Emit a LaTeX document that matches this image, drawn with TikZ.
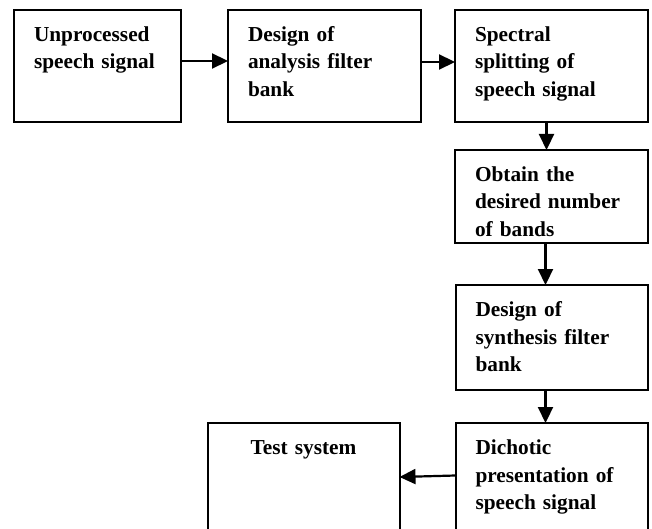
\documentclass[tikz,border=0pt]{standalone}
\usepackage{fontspec}
\setmainfont{Liberation Serif}
\usepackage{tikz}
\usetikzlibrary{arrows.meta,positioning}

\begin{document}
\begin{tikzpicture}[>={Triangle[length=16pt,width=15pt]}, node distance=1cm,
		block/.style={draw, line width=2pt, align=left, outer sep=0pt,
			inner xsep=20pt, inner ysep=0pt, text height=31.5pt,
			font=\fontsize{21.3}{27.5}\selectfont\bfseries},
		flow/.style={->, line width=2.2pt}]
			\useasboundingbox (0,0) rectangle (652pt,-529pt);
			\node[block, anchor=north west, text width=127pt, text depth=80.5pt] (raw) at (14pt,-10pt) {Unprocessed\\speech signal};
			\node[block, text width=153pt, text depth=80.5pt] [right=47pt of raw] (anfb) {Design of\\analysis filter\\bank};
			\node[block, text width=153pt, text depth=80.5pt] [right=34pt of anfb] (split) {Spectral\\splitting of\\speech signal};
			\node[block, text width=153pt, text depth=61.5pt] [below=28pt of split] (bands) {Obtain the\\desired number\\of bands};
			\node[block, text width=152pt, text depth=73.5pt] [below=42pt of bands] (synfb) {Design of\\synthesis filter\\bank};
			\node[block, text width=152pt, text depth=98.5pt] [below=33pt of synfb] (dicho) {Dichotic\\presentation of\\speech signal};
			\node[block, align=center, text width=152pt, text depth=98.5pt] [left=56pt of dicho] (test) {Test system};
			\path[flow]
				([yshift=5pt]raw.east) edge ([yshift=5pt]anfb.west)
				([yshift=4pt]anfb.east) edge ([yshift=4pt]split.west)
				([xshift=-5pt]split.south) edge ([xshift=-5pt]bands.north)
				([xshift=-6pt]bands.south) edge ([xshift=-6pt]synfb.north)
				([xshift=-6pt]synfb.south) edge ([xshift=-6pt]dicho.north)
				([yshift=12.5pt]dicho.west) edge ([yshift=11pt]test.east);
		\end{tikzpicture}
\end{document}
